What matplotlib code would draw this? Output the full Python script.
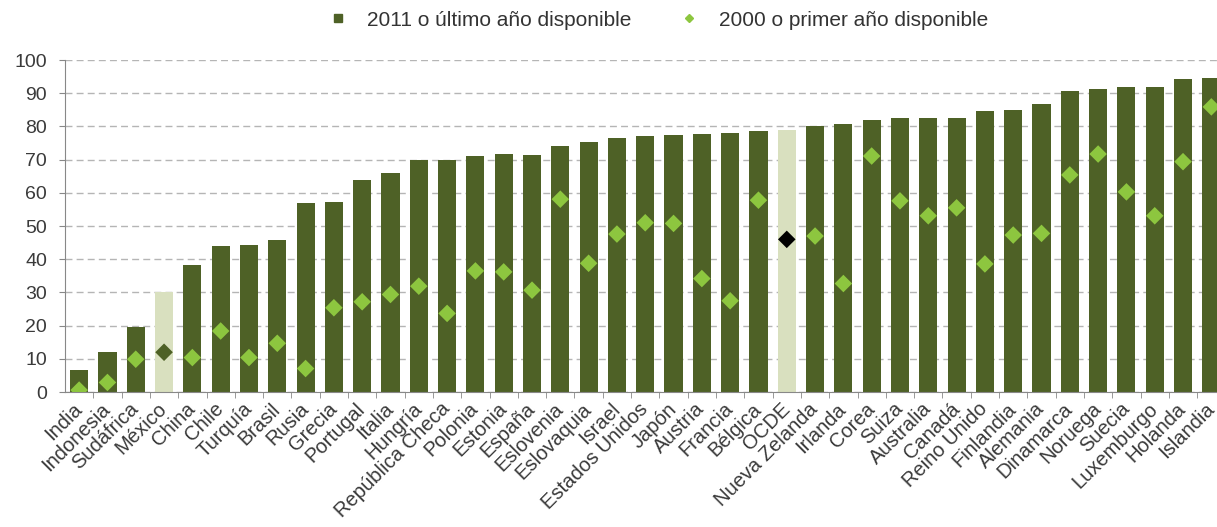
import numpy as np
import matplotlib
matplotlib.use("Agg")
import matplotlib.pyplot as plt
from matplotlib.lines import Line2D

plt.rcParams['font.family'] = ['Liberation Sans', 'DejaVu Sans']

# data
paises = ["India", "Indonesia", "Sudáfrica", "México", "China", "Chile", "Turquía",
          "Brasil", "Rusia", "Grecia", "Portugal", "Italia", "Hungría",
          "República Checa", "Polonia", "Estonia", "España", "Eslovenia",
          "Eslovaquia", "Israel", "Estados Unidos", "Japón", "Austria", "Francia",
          "Bélgica", "OCDE", "Nueva Zelanda", "Irlanda", "Corea", "Suiza",
          "Australia", "Canadá", "Reino Unido", "Finlandia", "Alemania",
          "Dinamarca", "Noruega", "Suecia", "Luxemburgo", "Holanda", "Islandia"]
v2011 = [6.8, 12.1, 19.7, 30.0, 38.3, 44.0, 44.4, 45.7, 57.0, 57.3, 63.9, 66.1, 69.9,
         69.9, 71.1, 71.6, 71.4, 74.2, 75.4, 76.4, 77.0, 77.4, 77.8, 78.1, 78.6, 78.9,
         80.1, 80.7, 81.9, 82.6, 82.6, 82.6, 84.6, 84.9, 86.9, 90.7, 91.2, 91.9, 91.9,
         94.2, 94.5]
v2000 = [0.6, 2.9, 9.9, 12.0, 10.4, 18.4, 10.4, 14.7, 7.1, 25.4, 27.2, 29.4, 31.9,
         23.7, 36.5, 36.2, 30.7, 58.1, 38.8, 47.6, 51.0, 50.8, 34.2, 27.5, 57.8, 46.0,
         47.0, 32.7, 71.1, 57.6, 53.1, 55.5, 38.6, 47.3, 47.8, 65.4, 71.7, 60.3, 53.1,
         69.4, 85.9]
resaltados = ["México", "OCDE"]

dark = "#4e6126"
light = "#8dc63f"
pale = "#d9e0bf"

x = np.arange(len(paises))
bar_colors = [pale if p in resaltados else dark for p in paises]
dia_colors = [dark if p == "México" else ("black" if p == "OCDE" else light) for p in paises]

fig = plt.figure(figsize=(12.17, 5.27), dpi=100)
ax = fig.add_axes([0.0534, 0.256, 0.9466, 0.63])

ax.bar(x, v2011, width=0.64, color=bar_colors, zorder=2)
ax.scatter(x, v2000, marker="D", s=80, c=dia_colors, zorder=3, linewidths=0)

ax.set_xlim(-0.5, 40.2)
ax.set_ylim(0, 100)
ax.set_yticks(np.arange(0, 101, 10))
ax.tick_params(axis='y', labelsize=14, colors='#3a3a3a', length=4, color='#888888', pad=9)
ax.yaxis.grid(True, linestyle=(0, (5, 3)), color='#b5b5b5', linewidth=1, zorder=0)
ax.set_axisbelow(True)

ax.set_xticks(x)
ax.set_xticklabels(paises, rotation=45, ha='right', va='center', rotation_mode='anchor',
                   fontsize=14.5, color='#3a3a3a')
ax.tick_params(axis='x', length=0, pad=10)
ax.set_xticks(x[:-1] + 0.5, minor=True)
ax.tick_params(axis='x', which='minor', length=4, color='#888888', direction='out')

for s in ['top', 'right']:
    ax.spines[s].set_visible(False)
ax.spines['left'].set_color('#888888')
ax.spines['bottom'].set_color('#888888')

handles = [Line2D([], [], marker='s', linestyle='', color=dark, markersize=6),
           Line2D([], [], marker='D', linestyle='', color=light, markersize=4)]
fig.legend(handles, ["2011 o último año disponible", "2000 o primer año disponible"],
           loc='center', bbox_to_anchor=(0.536, 0.962), ncol=2, frameon=False,
           fontsize=15, columnspacing=1.8, handletextpad=0.4, labelcolor='#333333')

fig.savefig("out.png", dpi=100)
